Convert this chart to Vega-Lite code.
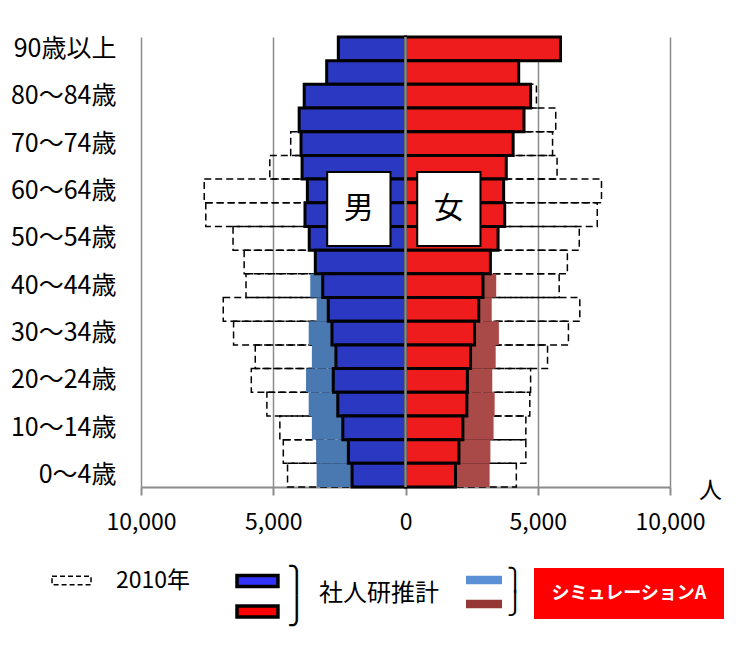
{
  "$schema": "https://vega.github.io/schema/vega-lite/v6.json",
  "width": 529,
  "height": 450,
  "autosize": "none",
  "padding": {"left": 141, "top": 37, "right": 73, "bottom": 161},
  "background": "white",
  "config": {
    "font": "Noto Sans CJK JP",
    "view": {"stroke": null},
    "legend": {"padding": 0, "labelLimit": 300, "titleLimit": 300}
  },
  "datasets": {
    "pop": [
      {"age": "90歳以上", "sex": "男", "series": "社人研推計", "value": -2540},
      {"age": "85～89歳", "sex": "男", "series": "社人研推計", "value": -2980},
      {"age": "80～84歳", "sex": "男", "series": "社人研推計", "value": -3830},
      {"age": "75～79歳", "sex": "男", "series": "社人研推計", "value": -4020},
      {"age": "70～74歳", "sex": "男", "series": "社人研推計", "value": -3950},
      {"age": "65～69歳", "sex": "男", "series": "社人研推計", "value": -3910},
      {"age": "60～64歳", "sex": "男", "series": "社人研推計", "value": -3710},
      {"age": "55～59歳", "sex": "男", "series": "社人研推計", "value": -3800},
      {"age": "50～54歳", "sex": "男", "series": "社人研推計", "value": -3640},
      {"age": "45～49歳", "sex": "男", "series": "社人研推計", "value": -3410},
      {"age": "40～44歳", "sex": "男", "series": "社人研推計", "value": -3130},
      {"age": "35～39歳", "sex": "男", "series": "社人研推計", "value": -2920},
      {"age": "30～34歳", "sex": "男", "series": "社人研推計", "value": -2780},
      {"age": "25～29歳", "sex": "男", "series": "社人研推計", "value": -2630},
      {"age": "20～24歳", "sex": "男", "series": "社人研推計", "value": -2730},
      {"age": "15～19歳", "sex": "男", "series": "社人研推計", "value": -2560},
      {"age": "10～14歳", "sex": "男", "series": "社人研推計", "value": -2370},
      {"age": "5～9歳", "sex": "男", "series": "社人研推計", "value": -2160},
      {"age": "0～4歳", "sex": "男", "series": "社人研推計", "value": -2020},
      {"age": "90歳以上", "sex": "女", "series": "社人研推計", "value": 5860},
      {"age": "85～89歳", "sex": "女", "series": "社人研推計", "value": 4280},
      {"age": "80～84歳", "sex": "女", "series": "社人研推計", "value": 4730},
      {"age": "75～79歳", "sex": "女", "series": "社人研推計", "value": 4480},
      {"age": "70～74歳", "sex": "女", "series": "社人研推計", "value": 4070},
      {"age": "65～69歳", "sex": "女", "series": "社人研推計", "value": 3810},
      {"age": "60～64歳", "sex": "女", "series": "社人研推計", "value": 3710},
      {"age": "55～59歳", "sex": "女", "series": "社人研推計", "value": 3750},
      {"age": "50～54歳", "sex": "女", "series": "社人研推計", "value": 3500},
      {"age": "45～49歳", "sex": "女", "series": "社人研推計", "value": 3210},
      {"age": "40～44歳", "sex": "女", "series": "社人研推計", "value": 2930},
      {"age": "35～39歳", "sex": "女", "series": "社人研推計", "value": 2770},
      {"age": "30～34歳", "sex": "女", "series": "社人研推計", "value": 2610},
      {"age": "25～29歳", "sex": "女", "series": "社人研推計", "value": 2460},
      {"age": "20～24歳", "sex": "女", "series": "社人研推計", "value": 2340},
      {"age": "15～19歳", "sex": "女", "series": "社人研推計", "value": 2320},
      {"age": "10～14歳", "sex": "女", "series": "社人研推計", "value": 2170},
      {"age": "5～9歳", "sex": "女", "series": "社人研推計", "value": 2020},
      {"age": "0～4歳", "sex": "女", "series": "社人研推計", "value": 1890},
      {"age": "90歳以上", "sex": "男", "series": "シミュレーションA", "value": -2540},
      {"age": "85～89歳", "sex": "男", "series": "シミュレーションA", "value": -2980},
      {"age": "80～84歳", "sex": "男", "series": "シミュレーションA", "value": -3830},
      {"age": "75～79歳", "sex": "男", "series": "シミュレーションA", "value": -4020},
      {"age": "70～74歳", "sex": "男", "series": "シミュレーションA", "value": -3950},
      {"age": "65～69歳", "sex": "男", "series": "シミュレーションA", "value": -3910},
      {"age": "60～64歳", "sex": "男", "series": "シミュレーションA", "value": -3710},
      {"age": "55～59歳", "sex": "男", "series": "シミュレーションA", "value": -3800},
      {"age": "50～54歳", "sex": "男", "series": "シミュレーションA", "value": -3640},
      {"age": "45～49歳", "sex": "男", "series": "シミュレーションA", "value": -3410},
      {"age": "40～44歳", "sex": "男", "series": "シミュレーションA", "value": -3600},
      {"age": "35～39歳", "sex": "男", "series": "シミュレーションA", "value": -3360},
      {"age": "30～34歳", "sex": "男", "series": "シミュレーションA", "value": -3660},
      {"age": "25～29歳", "sex": "男", "series": "シミュレーションA", "value": -3540},
      {"age": "20～24歳", "sex": "男", "series": "シミュレーションA", "value": -3760},
      {"age": "15～19歳", "sex": "男", "series": "シミュレーションA", "value": -3660},
      {"age": "10～14歳", "sex": "男", "series": "シミュレーションA", "value": -3540},
      {"age": "5～9歳", "sex": "男", "series": "シミュレーションA", "value": -3380},
      {"age": "0～4歳", "sex": "男", "series": "シミュレーションA", "value": -3360},
      {"age": "90歳以上", "sex": "女", "series": "シミュレーションA", "value": 5860},
      {"age": "85～89歳", "sex": "女", "series": "シミュレーションA", "value": 4280},
      {"age": "80～84歳", "sex": "女", "series": "シミュレーションA", "value": 4730},
      {"age": "75～79歳", "sex": "女", "series": "シミュレーションA", "value": 4480},
      {"age": "70～74歳", "sex": "女", "series": "シミュレーションA", "value": 4070},
      {"age": "65～69歳", "sex": "女", "series": "シミュレーションA", "value": 3810},
      {"age": "60～64歳", "sex": "女", "series": "シミュレーションA", "value": 3710},
      {"age": "55～59歳", "sex": "女", "series": "シミュレーションA", "value": 3750},
      {"age": "50～54歳", "sex": "女", "series": "シミュレーションA", "value": 3500},
      {"age": "45～49歳", "sex": "女", "series": "シミュレーションA", "value": 3210},
      {"age": "40～44歳", "sex": "女", "series": "シミュレーションA", "value": 3430},
      {"age": "35～39歳", "sex": "女", "series": "シミュレーションA", "value": 3260},
      {"age": "30～34歳", "sex": "女", "series": "シミュレーションA", "value": 3530},
      {"age": "25～29歳", "sex": "女", "series": "シミュレーションA", "value": 3410},
      {"age": "20～24歳", "sex": "女", "series": "シミュレーションA", "value": 3280},
      {"age": "15～19歳", "sex": "女", "series": "シミュレーションA", "value": 3370},
      {"age": "10～14歳", "sex": "女", "series": "シミュレーションA", "value": 3330},
      {"age": "5～9歳", "sex": "女", "series": "シミュレーションA", "value": 3210},
      {"age": "0～4歳", "sex": "女", "series": "シミュレーションA", "value": 3180},
      {"age": "90歳以上", "sex": "男", "series": "2010年", "value": -1200},
      {"age": "85～89歳", "sex": "男", "series": "2010年", "value": -2300},
      {"age": "80～84歳", "sex": "男", "series": "2010年", "value": -3300},
      {"age": "75～79歳", "sex": "男", "series": "2010年", "value": -3900},
      {"age": "70～74歳", "sex": "男", "series": "2010年", "value": -4340},
      {"age": "65～69歳", "sex": "男", "series": "2010年", "value": -5130},
      {"age": "60～64歳", "sex": "男", "series": "2010年", "value": -7610},
      {"age": "55～59歳", "sex": "男", "series": "2010年", "value": -7550},
      {"age": "50～54歳", "sex": "男", "series": "2010年", "value": -6520},
      {"age": "45～49歳", "sex": "男", "series": "2010年", "value": -6100},
      {"age": "40～44歳", "sex": "男", "series": "2010年", "value": -6030},
      {"age": "35～39歳", "sex": "男", "series": "2010年", "value": -6890},
      {"age": "30～34歳", "sex": "男", "series": "2010年", "value": -6500},
      {"age": "25～29歳", "sex": "男", "series": "2010年", "value": -5680},
      {"age": "20～24歳", "sex": "男", "series": "2010年", "value": -5830},
      {"age": "15～19歳", "sex": "男", "series": "2010年", "value": -5240},
      {"age": "10～14歳", "sex": "男", "series": "2010年", "value": -4750},
      {"age": "5～9歳", "sex": "男", "series": "2010年", "value": -4620},
      {"age": "0～4歳", "sex": "男", "series": "2010年", "value": -4460},
      {"age": "90歳以上", "sex": "女", "series": "2010年", "value": 3000},
      {"age": "85～89歳", "sex": "女", "series": "2010年", "value": 4100},
      {"age": "80～84歳", "sex": "女", "series": "2010年", "value": 4950},
      {"age": "75～79歳", "sex": "女", "series": "2010年", "value": 5680},
      {"age": "70～74歳", "sex": "女", "series": "2010年", "value": 5560},
      {"age": "65～69歳", "sex": "女", "series": "2010年", "value": 5730},
      {"age": "60～64歳", "sex": "女", "series": "2010年", "value": 7410},
      {"age": "55～59歳", "sex": "女", "series": "2010年", "value": 7250},
      {"age": "50～54歳", "sex": "女", "series": "2010年", "value": 6570},
      {"age": "45～49歳", "sex": "女", "series": "2010年", "value": 6120},
      {"age": "40～44歳", "sex": "女", "series": "2010年", "value": 5810},
      {"age": "35～39歳", "sex": "女", "series": "2010年", "value": 6590},
      {"age": "30～34歳", "sex": "女", "series": "2010年", "value": 6160},
      {"age": "25～29歳", "sex": "女", "series": "2010年", "value": 5370},
      {"age": "20～24歳", "sex": "女", "series": "2010年", "value": 4730},
      {"age": "15～19歳", "sex": "女", "series": "2010年", "value": 4700},
      {"age": "10～14歳", "sex": "女", "series": "2010年", "value": 4550},
      {"age": "5～9歳", "sex": "女", "series": "2010年", "value": 4550},
      {"age": "0～4歳", "sex": "女", "series": "2010年", "value": 4190}
    ],
    "sexlabels": [
      {"label": "男", "age": "55～59歳", "value": -1764},
      {"label": "女", "age": "55～59歳", "value": 1639}
    ],
    "center": [
      {"value": 0}
    ]
  },
  "data": {"name": "pop"},
  "encoding": {
    "x": {
      "field": "value", "type": "quantitative",
      "scale": {"domain": [-10000, 10000], "nice": false, "zero": true},
      "axis": {
        "title": "人", "values": [-10000, -5000, 0, 5000, 10000],
        "labelExpr": "format(abs(datum.value), ',')",
        "grid": true, "gridColor": "#8c8c8c", "gridWidth": 1.5,
        "domainColor": "#8c8c8c", "domainWidth": 2,
        "tickColor": "#8c8c8c", "tickSize": 8, "tickWidth": 2,
        "labelFontSize": 23, "labelColor": "black", "labelPadding": 27, "labelBaseline": "middle", "labelFlush": false,
        "titleFontSize": 23, "titleFontWeight": "normal", "titleColor": "black",
        "titleX": 569, "titleY": 3, "titleAlign": "center", "titleBaseline": "middle", "titleAnchor": null
      }
    },
    "y": {
      "field": "age", "type": "nominal",
      "scale": {
        "domain": ["90歳以上", "85～89歳", "80～84歳", "75～79歳", "70～74歳", "65～69歳", "60～64歳", "55～59歳", "50～54歳", "45～49歳", "40～44歳", "35～39歳", "30～34歳", "25～29歳", "20～24歳", "15～19歳", "10～14歳", "5～9歳", "0～4歳"],
        "paddingInner": 0, "paddingOuter": 0
      },
      "axis": {
        "title": null,
        "labelExpr": "round(datum.index * 18) % 2 === 0 ? datum.label : ''",
        "ticks": false, "domain": false, "grid": false,
        "labelOverlap": false, "labelBound": false, "labelFlush": false,
        "labelFontSize": 25, "labelColor": "black", "labelPadding": 25
      }
    }
  },
  "layer": [
    {
      "transform": [{"filter": "datum.series === '2010年'"}],
      "mark": {"type": "bar", "stroke": "black", "strokeWidth": 1.5, "strokeDash": [7, 4]},
      "encoding": {
        "fill": {
          "datum": "2010年", "type": "nominal",
          "scale": {"range": ["transparent"]},
          "legend": {
            "title": null, "orient": "none", "legendX": -90, "legendY": 523,
            "symbolType": "M-1,-0.22L1,-0.22L1,0.22L-1,0.22Z", "symbolSize": 1521,
            "symbolStrokeColor": "black", "symbolStrokeWidth": 1.5, "symbolDash": [5, 3],
            "labelFontSize": 23, "labelOffset": 24, "labelColor": "black"
          }
        }
      }
    },
    {
      "transform": [{"filter": "datum.series === 'シミュレーションA'"}],
      "mark": {"type": "bar"},
      "encoding": {
        "fill": {
          "field": "sex", "type": "nominal",
          "scale": {"domain": ["男", "女"], "range": ["#4a78b0", "#aa4a48"]},
          "legend": null
        }
      }
    },
    {
      "transform": [{"filter": "datum.series === '社人研推計'"}],
      "mark": {"type": "bar", "stroke": "black", "strokeWidth": 3},
      "encoding": {
        "fill": {
          "field": "sex", "type": "nominal",
          "scale": {"domain": ["男", "女"], "range": ["#2b38c2", "#ee1c1c"]},
          "legend": null
        }
      }
    },
    {
      "data": {"name": "center"},
      "mark": {"type": "rule", "color": "#8c8c8c", "strokeWidth": 2.5},
      "encoding": {"x": {"field": "value", "type": "quantitative"}, "y": null}
    },
    {
      "data": {"name": "sexlabels"},
      "mark": {"type": "point", "filled": true, "fill": "white", "shape": "M-0.855,-1.154L0.855,-1.154L0.855,0.846L-0.855,0.846Z", "size": 5476, "stroke": "black", "strokeWidth": 2, "opacity": 1}
    },
    {
      "data": {"name": "sexlabels"},
      "mark": {"type": "text", "fontSize": 30, "dy": -6, "baseline": "middle", "align": "center", "color": "black"},
      "encoding": {
        "text": {"field": "label", "type": "nominal"}
      }
    },
    {
      "data": {"name": "sexlabels"},
      "mark": {"type": "point", "filled": true, "opacity": 0, "stroke": "black", "strokeWidth": 3.5},
      "encoding": {
        "fill": {
          "field": "label", "type": "nominal",
          "scale": {"domain": ["男", "女"], "range": ["#3333ff", "#ff0000"]},
          "legend": {
            "title": "社人研推計", "orient": "none", "legendX": 94, "legendY": 527, "direction": "vertical",
            "symbolType": "M-1,-0.37L1.73,-0.37L1.73,0.37L-1,0.37Z", "symbolSize": 900, "rowPadding": 0.5,
            "symbolOpacity": 1, "symbolStrokeColor": "black", "symbolStrokeWidth": 3.5,
            "labelExpr": "datum.value === '男' ? '⎫' : '⎭'", "labelFont": "DejaVu Sans", "labelFontSize": 26, "labelOffset": 18, "labelColor": "black",
            "titleOrient": "right", "titleAnchor": "middle", "titleBaseline": "middle", "titleFontSize": 24, "titleFontWeight": "normal", "titlePadding": 12, "titleColor": "black"
          }
        }
      }
    },
    {
      "data": {"name": "sexlabels"},
      "mark": {"type": "point", "filled": true, "opacity": 0, "strokeWidth": 0},
      "encoding": {
        "fill": {
          "field": "label", "type": "nominal",
          "scale": {"domain": ["男", "女"], "range": ["#5b8fd6", "#953735"]},
          "legend": {
            "title": null, "orient": "none", "legendX": 325, "legendY": 530, "direction": "vertical",
            "symbolType": "M-1,-0.33L1.77,-0.33L1.77,0.33L-1,0.33Z", "symbolSize": 676, "rowPadding": 0,
            "symbolOpacity": 1, "symbolStrokeWidth": 0,
            "labelExpr": "datum.value === '男' ? '⎫' : '⎭'", "labelFont": "DejaVu Sans", "labelFontSize": 22, "labelOffset": 15, "labelColor": "black"
          }
        }
      }
    },
    {
      "data": {"name": "sexlabels"},
      "mark": {"type": "point", "filled": true, "opacity": 0, "strokeWidth": 0},
      "encoding": {
        "fill": {
          "datum": "シミュレーションA", "type": "nominal",
          "scale": {"range": ["#ff0000"]},
          "legend": {
            "title": null, "orient": "none", "legendX": 393, "legendY": 461.5,
            "symbolType": "M-1,-0.268L1,-0.268L1,0.268L-1,0.268Z", "symbolSize": 36100,
            "symbolOpacity": 1, "symbolStrokeWidth": 0,
            "labelOffset": -95, "labelAlign": "center", "labelColor": "white", "labelFontSize": 18, "labelFontWeight": "bold"
          }
        }
      }
    }
  ],
  "resolve": {"scale": {"fill": "independent"}}
}
